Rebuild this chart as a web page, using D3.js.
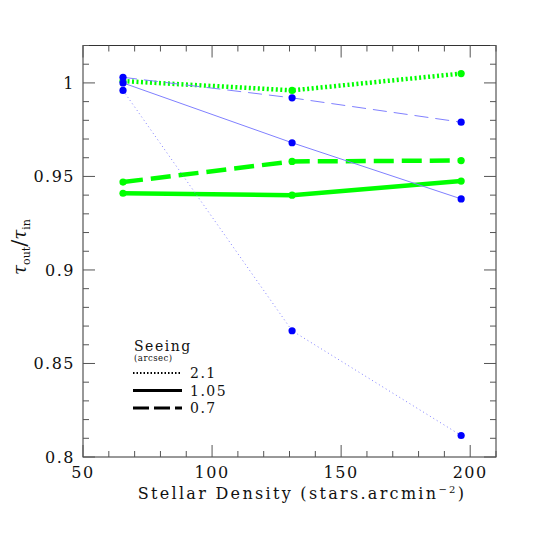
<!DOCTYPE html>
<html>
<head>
<meta charset="utf-8">
<script src="https://cdn.jsdelivr.net/npm/d3@7"></script>
<style>
  body { margin: 0; background: #fff; }
  svg text { font-family: "DejaVu Serif", serif; fill: #111; }
</style>
</head>
<body>
<div id="chart"></div>
<script>
// stellar density (stars.arcmin^-2)
var density = [65.5, 131, 196.5];
// seeing values (arcsec)
var seeing = ['2.1', '1.05', '0.7'];
// tau_out / tau_in, blue series
var blue21 = [0.996, 0.8675, 0.8115];
var blue105 = [1.000, 0.968, 0.938];
var blue07 = [1.003, 0.992, 0.979];
// tau_out / tau_in, green series
var green21 = [1.001, 0.996, 1.005];
var green105 = [0.941, 0.940, 0.9475];
var green07 = [0.947, 0.958, 0.9585];

var xTicks = [50, 100, 150, 200];
var yTicks = [0.8, 0.85, 0.9, 0.95, 1];

var W = 540, H = 540;
var margin = {left: 83, right: 44, top: 45.5, bottom: 83};

var svg = d3.select('#chart').append('svg').attr('width', W).attr('height', H);

var x = d3.scaleLinear().domain([50, 210]).range([margin.left, W - margin.right]);
var y = d3.scaleLinear().domain([0.8, 1.02]).range([H - margin.bottom, margin.top]);

var x0 = x.range()[0], x1 = x.range()[1];
var y0 = y.range()[0], y1 = y.range()[1];

// 边框
svg.append('rect').attr('x', x0).attr('y', y1).attr('width', x1 - x0).attr('height', y0 - y1)
  .attr('fill', 'none').attr('stroke', '#333').attr('stroke-width', 1);

// 刻度 (inward ticks on all four sides)
var ticksG = svg.append('g').attr('stroke', '#555').attr('stroke-width', 1);
d3.range(50, 211, 10).forEach(function(v) {
  var major = v % 50 === 0;
  var len = major ? 12 : 6;
  ticksG.append('line').attr('x1', x(v)).attr('x2', x(v)).attr('y1', y0).attr('y2', y0 - len);
  ticksG.append('line').attr('x1', x(v)).attr('x2', x(v)).attr('y1', y1).attr('y2', y1 + len);
});
d3.range(80, 103, 1).forEach(function(k) {
  var v = k / 100;
  var major = k % 5 === 0;
  var len = major ? 12 : 6;
  ticksG.append('line').attr('y1', y(v)).attr('y2', y(v)).attr('x1', x0).attr('x2', x0 + len);
  ticksG.append('line').attr('y1', y(v)).attr('y2', y(v)).attr('x1', x1).attr('x2', x1 - len);
});

svg.selectAll('.xlab').data(xTicks).enter().append('text')
  .attr('x', function(d) { return x(d); }).attr('y', y0 + 21)
  .attr('text-anchor', 'middle').attr('font-size', 16).attr('letter-spacing', 1.5)
  .text(function(d) { return d; });

svg.selectAll('.ylab').data(yTicks).enter().append('text')
  .attr('x', x0 - 8).attr('y', function(d) { return y(d) + 6; })
  .attr('text-anchor', 'end').attr('font-size', 16).attr('letter-spacing', 1.5)
  .text(function(d) { return d; });

// x axis title
var xt = svg.append('text').attr('x', 302).attr('y', y0 + 42)
  .attr('text-anchor', 'middle').attr('font-size', 16).attr('letter-spacing', 2.3);
xt.append('tspan').text('Stellar Density (stars.arcmin');
xt.append('tspan').attr('font-size', 10).attr('dy', -6).text('−2');
xt.append('tspan').attr('dy', 6).text(')');

// y axis title
var yt = svg.append('text').attr('transform', 'translate(26,' + 247 + ') rotate(-90)')
  .attr('text-anchor', 'middle').attr('font-size', 18);
yt.append('tspan').attr('font-style', 'italic').text('τ');
yt.append('tspan').attr('font-size', 11).attr('dy', 4).text('out');
yt.append('tspan').attr('dy', -4).attr('font-size', 21).text('/');
yt.append('tspan').attr('font-style', 'italic').text('τ');
yt.append('tspan').attr('font-size', 11).attr('dy', 4).text('in');

var line = d3.line().x(function(d, i) { return x(density[i]); }).y(function(d) { return y(d); });

var series = [
  {vals: green21, line: '#00ff00', pt: '#00ff00', w: 4.5, dash: '2,2.5'},
  {vals: green105, line: '#00ff00', pt: '#00ff00', w: 4.5, dash: null},
  {vals: green07, line: '#00ff00', pt: '#00ff00', w: 4.5, dash: '20,8'},
  {vals: blue21, line: '#8080ff', pt: '#0000ff', w: 1, dash: '1,3'},
  {vals: blue105, line: '#8080ff', pt: '#0000ff', w: 1, dash: null},
  {vals: blue07, line: '#8080ff', pt: '#0000ff', w: 1, dash: '14,7'}
];

series.forEach(function(s) {
  svg.append('path').attr('d', line(s.vals)).attr('fill', 'none')
    .attr('stroke', s.line).attr('stroke-width', s.w)
    .attr('stroke-dasharray', s.dash);
});
series.forEach(function(s) {
  svg.selectAll(null).data(s.vals).enter().append('circle')
    .attr('cx', function(d, i) { return x(density[i]); })
    .attr('cy', function(d) { return y(d); })
    .attr('r', 3.6).attr('fill', s.pt);
});

// 图例
var lg = svg.append('g');
lg.append('text').attr('x', 134).attr('y', 351).attr('font-size', 14).attr('letter-spacing', 1.5).text('Seeing');
lg.append('text').attr('x', 134).attr('y', 361).attr('font-size', 8.5).attr('letter-spacing', 0.5).text('(arcsec)');
var dashes = ['1.5,2', null, '16,5'];
seeing.forEach(function(s, i) {
  var yy = 373 + i * 17.5;
  lg.append('line').attr('x1', 133).attr('x2', 182).attr('y1', yy).attr('y2', yy)
    .attr('stroke', '#000').attr('stroke-width', i === 0 ? 2 : 3)
    .attr('stroke-dasharray', dashes[i]);
  lg.append('text').attr('x', 190).attr('y', yy + 5).attr('font-size', 14).attr('letter-spacing', 1.5).text(s);
});
</script>
</body>
</html>
